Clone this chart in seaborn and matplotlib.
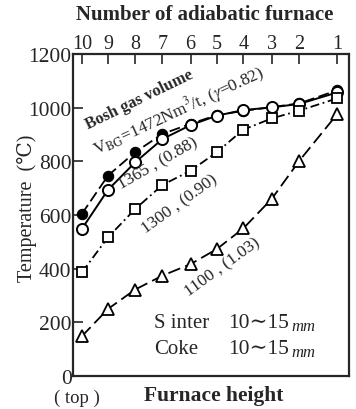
import matplotlib
matplotlib.use("Agg")
import matplotlib.pyplot as plt
import numpy as np
import pandas as pd
import seaborn as sns

# furnace numbers (top axis) and their position along the furnace height (0-100)
furnace_no = [10, 9, 8, 7, 6, 5, 4, 3, 2, 1]
furnace_pos = [3.2, 12.7, 22.5, 32.4, 42.6, 52.1, 61.7, 72.0, 82.0, 95.8]

# temperature (C) for each bosh gas volume
temp_1472 = [604, 747, 834, 902, 940, 972, 988, 1002, 1016, 1065]
temp_1365 = [548, 694, 796, 883, 935, 970, 991, 1001, 1014, 1057]
temp_1300 = [386, 517, 622, 712, 765, 834, 918, 960, 989, 1035]
temp_1100 = [148, 250, 322, 374, 417, 473, 550, 660, 802, 977]

y_ticks = [0, 200, 400, 600, 800, 1000, 1200]

sns.set_style("ticks")
plt.rcParams["font.family"] = ["Liberation Serif", "DejaVu Serif", "DejaVu Sans"]
plt.rcParams["mathtext.fontset"] = "stix"

fig = plt.figure(figsize=(3.56, 4.10), dpi=100)
ax = fig.add_axes([73 / 356, 1 - 377 / 410, 276 / 356, 322 / 410])

df = pd.DataFrame({"pos": furnace_pos, "v1472": temp_1472, "v1365": temp_1365,
                   "v1300": temp_1300, "v1100": temp_1100})

sns.lineplot(data=df, x="pos", y="v1472", ax=ax, color="black", lw=1.3,
             linestyle=(0, (6, 2.5)), marker="o", markersize=7.5,
             markerfacecolor="black", markeredgecolor="black", zorder=2)
sns.lineplot(data=df, x="pos", y="v1365", ax=ax, color="black", lw=1.4,
             linestyle="-", marker="o", markersize=8,
             markerfacecolor="white", markeredgecolor="black",
             markeredgewidth=1.4, zorder=3)
sns.lineplot(data=df, x="pos", y="v1300", ax=ax, color="black", lw=1.3,
             linestyle=(0, (5, 2, 1, 2)), marker="s", markersize=7,
             markerfacecolor="white", markeredgecolor="black",
             markeredgewidth=1.3, zorder=3)
sns.lineplot(data=df, x="pos", y="v1100", ax=ax, color="black", lw=1.3,
             linestyle=(0, (7, 3)), marker="^", markersize=9,
             markerfacecolor="white", markeredgecolor="black",
             markeredgewidth=1.3, zorder=3)

ax.set_xlim(0, 100)
ax.set_ylim(0, 1200)
ax.set_yticks(y_ticks)
ax.set_yticklabels([str(t) for t in y_ticks], fontsize=15.5)
ax.set_xticks(furnace_pos)
ax.set_xticklabels([str(n) for n in furnace_no], fontsize=14.5)
ax.tick_params(axis="x", top=True, labeltop=True, bottom=False,
               labelbottom=False, direction="in", length=7, width=1.2, pad=1)
ax.tick_params(axis="y", direction="in", length=7, width=1.2, pad=1)
for s in ax.spines.values():
    s.set_linewidth(1.6)
    s.set_visible(True)
ax.set_xlabel("")
ax.set_ylabel("")

# axis titles
fig.text(205 / 356, 1 - 15 / 410, "Number of adiabatic furnace", ha="center",
         va="center", fontsize=15, fontweight="bold")
fig.text(214 / 356, 1 - 396 / 410, "Furnace height", ha="center",
         va="center", fontsize=15.5, fontweight="bold")
fig.text(77 / 356, 1 - 398 / 410, "( top )", ha="center", va="center",
         fontsize=13.5)
fig.text(27 / 356, 1 - 208 / 410, "Temperature  (℃)", ha="center",
         va="center", fontsize=14.5, rotation=90)

# curve labels
def px(x, y):
    return ((x - 73) / 276 * 100, (377 - y) / 322 * 1200)

ax.text(*px(139, 100), "Bosh gas volume", rotation=26, ha="center",
        va="center", fontsize=12, fontweight="bold", rotation_mode="anchor")
ax.text(*px(178, 111), r"V$_{\rm BG}$=1472Nm$^3$/t, ($\gamma$=0.82)",
        rotation=25, ha="center", va="center", fontsize=12.5,
        rotation_mode="anchor")
ax.text(*px(158, 164), "1365 , (0.88)", rotation=30, ha="center",
        va="center", fontsize=12.5, rotation_mode="anchor")
ax.text(*px(180, 205), "1300 , (0.90)", rotation=36, ha="center",
        va="center", fontsize=12.5, rotation_mode="anchor")
ax.text(*px(223, 268), "1100 , (1.03)", rotation=36, ha="center",
        va="center", fontsize=12.5, rotation_mode="anchor")

# material size note
ax.text(*px(154, 324), "S inter", ha="left", va="center", fontsize=15)
ax.text(*px(154, 350), "Coke", ha="left", va="center", fontsize=15)
ax.text(*px(228, 324), "10∼15", ha="left", va="center", fontsize=15.5)
ax.text(*px(228, 350), "10∼15", ha="left", va="center", fontsize=15.5)
ax.text(*px(291, 327), "mm", ha="left", va="center", fontsize=12,
        style="italic")
ax.text(*px(291, 353), "mm", ha="left", va="center", fontsize=12,
        style="italic")

fig.savefig("out.png", dpi=100)
